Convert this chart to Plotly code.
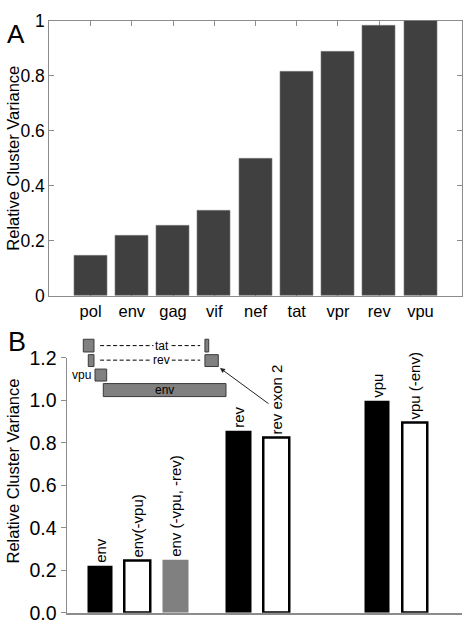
import plotly.graph_objects as go

# ---------- Panel A data ----------
genes_a = ["pol", "env", "gag", "vif", "nef", "tat", "vpr", "rev", "vpu"]
variance_a = [0.147, 0.221, 0.256, 0.309, 0.498, 0.814, 0.887, 0.982, 1.0]
pos_a = [1, 2, 3, 4, 5, 6, 7, 8, 9]
yticks_a = [0, 0.2, 0.4, 0.6, 0.8, 1.0]
yticktext_a = ["0", "0.2", "0.4", "0.6", "0.8", "1"]

# ---------- Panel B data ----------
labels_b = ["env", "env(-vpu)", "env (-vpu, -rev)", "rev", "rev exon 2", "vpu", "vpu (-env)"]
variance_b = [0.22, 0.242, 0.25, 0.856, 0.821, 0.998, 0.895]
pos_b = [1, 2, 3, 4.67, 5.67, 8.33, 9.33]
fill_b = ["#000000", "#ffffff", "#808080", "#000000", "#ffffff", "#000000", "#ffffff"]
edge_w_b = [0, 2.5, 0, 0, 2.5, 0, 2.5]
yticks_b = [0, 0.2, 0.4, 0.6, 0.8, 1.0, 1.2]
yticktext_b = ["0.0", "0.2", "0.4", "0.6", "0.8", "1.0", "1.2"]

W, H = 467, 635
AX = "#8c8c8c"
FONT = "Liberation Sans, Arial, sans-serif"

fig = go.Figure()

fig.add_trace(go.Bar(
    x=pos_a, y=variance_a, width=0.8,
    marker=dict(color="#404040", line=dict(color="#7a7a7a", width=0.6)),
    xaxis="x", yaxis="y", showlegend=False, hoverinfo="skip",
))

fig.add_trace(go.Bar(
    x=pos_b, y=variance_b, width=0.67,
    marker=dict(color=fill_b, line=dict(color="#000000", width=edge_w_b)),
    text=labels_b, textposition="outside", textangle=-90,
    outsidetextfont=dict(size=15, color="black", family=FONT),
    constraintext="none", cliponaxis=False,
    xaxis="x2", yaxis="y2", showlegend=False, hoverinfo="skip",
))

def px2fx(px):
    return px / W

def px2fy(py):
    return 1 - py / H

fig.update_layout(
    width=W, height=H,
    margin=dict(l=0, r=0, t=0, b=0),
    plot_bgcolor="white", paper_bgcolor="white",
    font=dict(family=FONT, color="black"),
    bargap=0,
    xaxis=dict(
        domain=[px2fx(49.3), px2fx(461.7)], anchor="y",
        range=[0, 10], tickvals=pos_a, ticktext=genes_a,
        ticks="inside", ticklen=5, tickcolor=AX, mirror="ticks",
        showline=True, linecolor=AX, linewidth=1,
        showgrid=False, zeroline=False, layer="below traces",
        tickfont=dict(size=16.5),
    ),
    yaxis=dict(
        domain=[px2fy(295.3), px2fy(10)], anchor="x",
        range=[0, 1], tickvals=yticks_a, ticktext=yticktext_a,
        ticks="inside", ticklen=5, tickcolor=AX, mirror="ticks",
        showline=True, linecolor=AX, linewidth=1,
        showgrid=False, zeroline=False,
        tickfont=dict(size=17.5),
    ),
    xaxis2=dict(
        domain=[px2fx(66.5), px2fx(462)], anchor="y2",
        range=[0.12, 10.58], showticklabels=False, ticks="",
        showline=True, linecolor=AX, linewidth=1.5,
        showgrid=False, zeroline=False,
    ),
    yaxis2=dict(
        domain=[px2fy(623.3), px2fy(359.3)], anchor="x2",
        range=[0, 1.2], tickvals=yticks_b, ticktext=yticktext_b,
        ticks="outside", ticklen=5, tickcolor=AX,
        showline=True, linecolor=AX, linewidth=1,
        showgrid=False, zeroline=False,
        tickfont=dict(size=19.5),
    ),
)

ann = []
# panel letters
ann.append(dict(text="A", x=px2fx(15.5), y=px2fy(24), xref="paper", yref="paper",
                xanchor="center", yanchor="middle", showarrow=False, font=dict(size=26)))
ann.append(dict(text="B", x=px2fx(16.5), y=px2fy(343), xref="paper", yref="paper",
                xanchor="center", yanchor="middle", showarrow=False, font=dict(size=27)))
# axis titles
ann.append(dict(text="Relative Cluster Variance", x=px2fx(13), y=px2fy(153),
                xref="paper", yref="paper", textangle=-90, showarrow=False,
                xanchor="center", yanchor="middle", font=dict(size=16.5)))
ann.append(dict(text="Relative Cluster Variance", x=px2fx(13), y=px2fy(477),
                xref="paper", yref="paper", textangle=-90, showarrow=False,
                xanchor="center", yanchor="middle", font=dict(size=16.5)))

# ---------- inset gene map (illustration, in panel-B domain coords) ----------
XR, YR = "x2 domain", "y2 domain"
GRAY, EDGE = "#808080", "#3a3a3a"
shapes = []

def box(x0, x1, y0, y1):
    shapes.append(dict(type="rect", xref=XR, yref=YR, x0=x0, x1=x1, y0=y0, y1=y1,
                       fillcolor=GRAY, line=dict(color=EDGE, width=1)))

def dash(x0, x1, y):
    shapes.append(dict(type="line", xref=XR, yref=YR, x0=x0, x1=x1, y0=y, y1=y,
                       line=dict(color="black", width=1, dash="4px,2.5px")))

# tat row
dash(0.085, 0.338, 1.048)
box(0.0425, 0.0695, 1.023, 1.073)
box(0.350, 0.3596, 1.023, 1.073)
# rev row
dash(0.085, 0.338, 0.991)
box(0.0551, 0.0695, 0.966, 1.0125)
box(0.350, 0.3838, 0.966, 1.0125)
# vpu
box(0.0721, 0.1016, 0.909, 0.956)
# env
box(0.093, 0.4033, 0.848, 0.899)

def label(text, x, y, xanchor="center", bg=None):
    d = dict(text=text, x=x, y=y, xref=XR, yref=YR, showarrow=False,
             xanchor=xanchor, yanchor="middle", borderpad=1, font=dict(size=12))
    if bg:
        d["bgcolor"] = bg
    ann.append(d)

label("tat", 0.2407, 1.048, bg="white")
label("rev", 0.2407, 0.991, bg="white")
label("vpu", 0.068, 0.933, xanchor="right")
label("env", 0.2473, 0.873)

# arrow from "rev exon 2" label to the rev exon box
ann.append(dict(text="", x=0.3881, y=0.96, ax=0.5145, ay=0.816, xref=XR, yref=YR,
                axref=XR, ayref=YR, showarrow=True, arrowhead=2, arrowsize=1,
                arrowwidth=1, arrowcolor="#222222"))

fig.update_layout(shapes=shapes, annotations=ann)

fig.write_html(
    "out.html",
    config={"displayModeBar": False},
    post_script="document.body.style.margin='0';document.body.style.overflow='hidden';",
)
